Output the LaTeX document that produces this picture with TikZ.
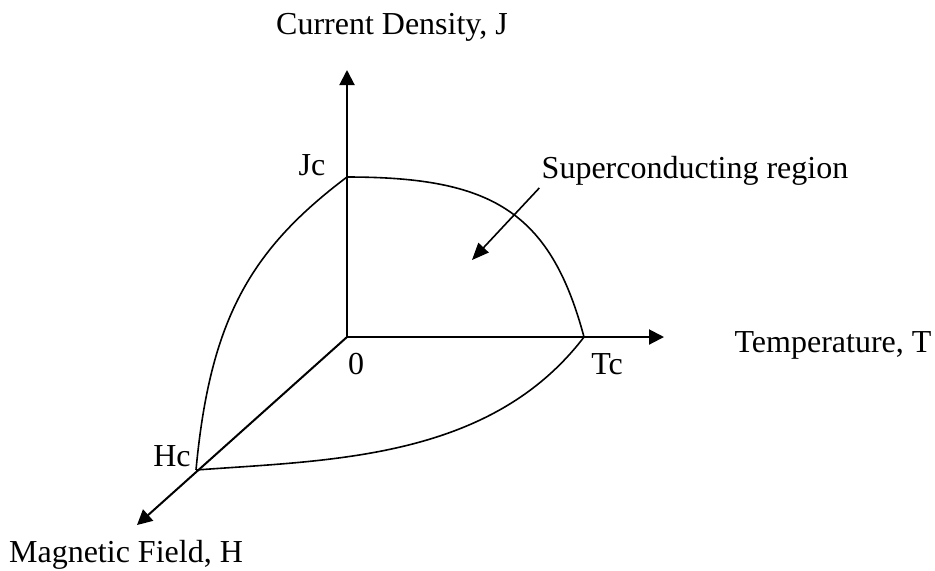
\documentclass[tikz,border=0pt]{standalone}
\usepackage{fontspec}
\setmainfont{Liberation Serif}
\usepackage{tikz}
\usetikzlibrary{positioning, arrows.meta, calc}

\begin{document}
\begin{tikzpicture}[x=0.5pt, y=-0.5pt,
    axis/.style={line width=1pt, -{Triangle[length=7.5pt, width=7.5pt]}},
    bound/.style={line width=0.8pt},
    lbl/.style={font=\fontsize{16}{19}\selectfont, inner sep=0pt}]
    \useasboundingbox (0,0) rectangle (935,570);
    % axes
    \coordinate (O) at (347,337);
    \coordinate (Jtip) at (347,70);
    \coordinate (Ttip) at (664,337);
    \coordinate (Htip) at (137,525);
    \coordinate (Jc) at (347,177);
    \coordinate (Tc) at (584,337);
    \coordinate (Hc) at (196,470);
    \draw[axis] (O) -- (Jtip);
    \draw[axis] (O) -- (Ttip);
    \draw[axis] (O) -- (Htip);
    % critical surface
    \draw[bound] (Jc) .. controls (490,177) and (550,210) .. (Tc);
    \draw[bound] (Jc) .. controls (250,250) and (210,320) .. (Hc);
    \draw[bound] (Hc) .. controls (330,460) and (490,460) .. (Tc);
    % labels
    \node[lbl] (jlab) at (392,27) {Current Density, J};
    \node[lbl] (tlab) at (833,345) {Temperature, T};
    \node[lbl] (hlab) at (126,555) {Magnetic Field, H};
    \node[lbl] (jclab) at (312,165) {Jc};
    \node[lbl] (tclab) at (607,364) {Tc};
    \node[lbl] (hclab) at (172,456) {Hc};
    \node[lbl] (olab) at (356,364) {0};
    \node[lbl, inner sep=1pt] (region) at (695,171) {Superconducting region};
    \coordinate (inside) at (472,260);
    \draw[line width=0.8pt, -{Triangle[length=8.5pt, width=7pt]}] (region.south west) -- (inside);
\end{tikzpicture}
\end{document}
